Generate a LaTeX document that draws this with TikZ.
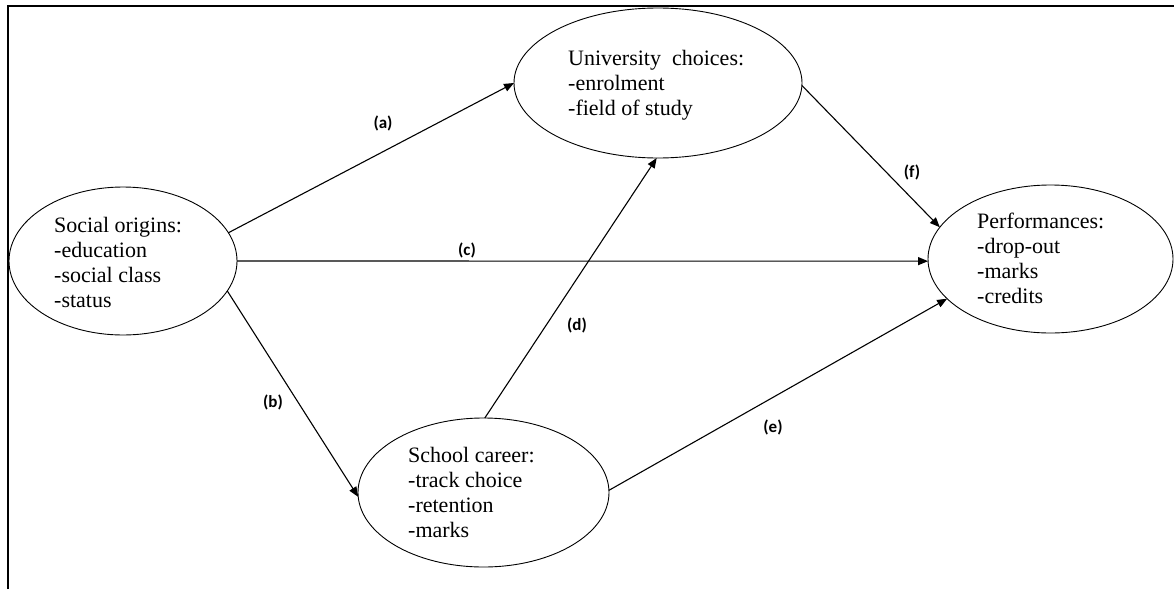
\documentclass[tikz,border=0pt]{standalone}
\usepackage{fontspec}
\setmainfont{Liberation Serif}
\newfontfamily\lblfont{Carlito}
\usetikzlibrary{shapes.geometric,arrows.meta}
\begin{document}
\begin{tikzpicture}[x=1pt,y=-1pt,
  oval/.style={ellipse,draw,line width=0.9pt,inner sep=0pt,outer sep=0pt},
  txt/.style={anchor=base west,align=left,inner sep=0pt,font=\fontsize{22}{25}\selectfont},
  lbl/.style={font=\lblfont\bfseries\fontsize{17}{20}\selectfont,inner sep=0pt},
  arr/.style={line width=1.1pt,-{Triangle[length=10pt,width=8pt]}}]
\useasboundingbox (0,0) rectangle (1174,589);
\draw[line width=2pt] (8,589) -- (8,6) -- (1174,6);
% ellipses
\node[oval,minimum width=228pt,minimum height=148pt] (so) at (123,261) {};
\node[oval,minimum width=288pt,minimum height=150pt] (uc) at (658,83) {};
\node[oval,minimum width=251pt,minimum height=149pt] (sc) at (483.5,492.5) {};
\node[oval,minimum width=245pt,minimum height=148pt] (pf) at (1050.5,259) {};
% texts (anchored at the baseline of the last line)
\node[txt] (sot) at (54,307) {Social origins:\\-education\\-social class\\-status};
\node[txt] (uct) at (568,115) {University\ \ choices:\\-enrolment\\-field of study};
\node[txt] (sct) at (408,537) {School career:\\-track choice\\-retention\\-marks};
\node[txt] (pft) at (977,303) {Performances:\\-drop-out\\-marks\\-credits};
% arrows
\draw[arr] (so.15) -- (uc.180);
\draw[arr] (so.0) -- (pf.181);
\draw[arr] (so.-16) -- (sc.182);
\draw[arr] (sc.89) -- (uc.-91);
\draw[arr] (sc.1) -- (pf.201);
\draw[arr] (uc.-1) -- (pf.164.6);
% labels
\node[lbl] (la) at (383,123) {(a)};
\node[lbl] (lb) at (273,402) {(b)};
\node[lbl] (lc) at (467,250) {(c)};
\node[lbl] (ld) at (577,325) {(d)};
\node[lbl] (le) at (773,427) {(e)};
\node[lbl] (lf) at (912,172) {(f)};
\end{tikzpicture}
\end{document}
